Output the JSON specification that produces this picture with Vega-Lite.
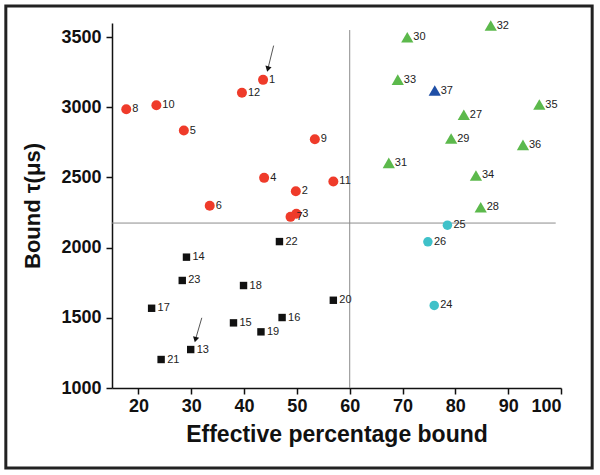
{
  "$schema": "https://vega.github.io/schema/vega-lite/v6.json",
  "width": 449,
  "height": 365,
  "autosize": "none",
  "padding": {"left": 112, "top": 23, "right": 39, "bottom": 87},
  "background": "white",
  "config": {
    "view": {"stroke": null},
    "font": "Liberation Sans"
  },
  "datasets": {
    "pts": [
      {"id": "1", "x": 43.6, "y": 3195, "g": "A"},
      {"id": "12", "x": 39.6, "y": 3103, "g": "A"},
      {"id": "8", "x": 17.7, "y": 2986, "g": "A"},
      {"id": "10", "x": 23.4, "y": 3014, "g": "A"},
      {"id": "5", "x": 28.6, "y": 2834, "g": "A"},
      {"id": "9", "x": 53.4, "y": 2772, "g": "A"},
      {"id": "4", "x": 43.8, "y": 2497, "g": "A"},
      {"id": "11", "x": 56.9, "y": 2471, "g": "A"},
      {"id": "2", "x": 49.8, "y": 2402, "g": "A"},
      {"id": "6", "x": 33.5, "y": 2298, "g": "A"},
      {"id": "7", "x": 48.8, "y": 2219, "g": "A"},
      {"id": "3", "x": 49.9, "y": 2241, "g": "A"},
      {"id": "22", "x": 46.7, "y": 2043, "g": "B"},
      {"id": "14", "x": 29.1, "y": 1932, "g": "B"},
      {"id": "23", "x": 28.3, "y": 1766, "g": "B"},
      {"id": "18", "x": 39.9, "y": 1730, "g": "B"},
      {"id": "17", "x": 22.5, "y": 1568, "g": "B"},
      {"id": "20", "x": 56.9, "y": 1625, "g": "B"},
      {"id": "16", "x": 47.2, "y": 1502, "g": "B"},
      {"id": "15", "x": 38.0, "y": 1464, "g": "B"},
      {"id": "19", "x": 43.2, "y": 1400, "g": "B"},
      {"id": "13", "x": 29.9, "y": 1274, "g": "B"},
      {"id": "21", "x": 24.3, "y": 1203, "g": "B"},
      {"id": "25", "x": 78.5, "y": 2160, "g": "C"},
      {"id": "26", "x": 74.8, "y": 2041, "g": "C"},
      {"id": "24", "x": 76.0, "y": 1588, "g": "C"},
      {"id": "28", "x": 84.8, "y": 2288, "g": "D"},
      {"id": "32", "x": 86.7, "y": 3582, "g": "D"},
      {"id": "30", "x": 70.9, "y": 3499, "g": "D"},
      {"id": "33", "x": 69.1, "y": 3197, "g": "D"},
      {"id": "35", "x": 95.9, "y": 3019, "g": "D"},
      {"id": "27", "x": 81.6, "y": 2946, "g": "D"},
      {"id": "29", "x": 79.2, "y": 2777, "g": "D"},
      {"id": "36", "x": 92.8, "y": 2732, "g": "D"},
      {"id": "31", "x": 67.4, "y": 2604, "g": "D"},
      {"id": "34", "x": 83.9, "y": 2514, "g": "D"},
      {"id": "37", "x": 76.1, "y": 3119, "g": "E"}
    ],
    "arrows": [
      {"x": 45.6, "y": 3439, "x2": 44.5, "y2": 3272},
      {"x": 32.0, "y": 1500, "x2": 30.8, "y2": 1345}
    ],
    "one": [{}]
  },
  "layer": [
    {
      "data": {"name": "one"},
      "mark": {"type": "rect", "fill": null, "stroke": "#222222", "strokeWidth": 3, "clip": false},
      "encoding": {
        "x": {"datum": -5.1, "type": "quantitative", "scale": {"domain": [15, 100], "nice": false, "zero": false}},
        "x2": {"datum": 105.9},
        "y": {"datum": 3721, "type": "quantitative", "scale": {"domain": [1000, 3600], "nice": false, "zero": false}},
        "y2": {"datum": 430}
      }
    },
    {
      "data": {"name": "one"},
      "mark": {"type": "rule", "color": "#8c8c8c", "strokeWidth": 1},
      "encoding": {
        "x": {"datum": 60, "type": "quantitative"},
        "y": {"datum": 3550, "type": "quantitative"},
        "y2": {"datum": 1000}
      }
    },
    {
      "data": {"name": "one"},
      "mark": {"type": "rule", "color": "#8c8c8c", "strokeWidth": 1},
      "encoding": {
        "x": {"datum": 15, "type": "quantitative"},
        "x2": {"datum": 99},
        "y": {"datum": 2175, "type": "quantitative"}
      }
    },
    {
      "data": {"name": "pts"},
      "mark": {"type": "point", "filled": true, "opacity": 1},
      "encoding": {
        "x": {
          "field": "x", "type": "quantitative",
          "scale": {"domain": [15, 100], "nice": false, "zero": false},
          "axis": {
            "values": [20, 25, 30, 35, 40, 45, 50, 55, 60, 65, 70, 75, 80, 85, 90, 95, 100],
            "labelExpr": "datum.value % 10 === 0 ? datum.label : ''",
            "tickSize": {"condition": {"test": "datum.value % 10 === 0", "value": 6}, "value": 4},
            "title": "Effective percentage bound",
            "grid": false,
            "domainColor": "#111111", "domainWidth": 1.5,
            "tickColor": "#111111", "tickWidth": 1.5,
            "labelFont": "Liberation Sans", "labelFontSize": 18, "labelFontWeight": "bold", "labelColor": "#111111",
            "labelPadding": 3,
            "titleFont": "Liberation Sans", "titleFontSize": 23, "titleFontWeight": "bold", "titleColor": "#111111",
            "titlePadding": 8
          }
        },
        "y": {
          "field": "y", "type": "quantitative",
          "scale": {"domain": [1000, 3600], "nice": false, "zero": false},
          "axis": {
            "values": [1000, 1250, 1500, 1750, 2000, 2250, 2500, 2750, 3000, 3250, 3500],
            "labelExpr": "datum.value % 500 === 0 ? datum.label : ''",
            "format": "d",
            "tickSize": {"condition": {"test": "datum.value % 500 === 0", "value": 6}, "value": 4},
            "title": "Bound τ(μs)",
            "grid": false,
            "domainColor": "#111111", "domainWidth": 1.5,
            "tickColor": "#111111", "tickWidth": 1.5,
            "labelFont": "Liberation Sans", "labelFontSize": 18, "labelFontWeight": "bold", "labelColor": "#111111",
            "labelPadding": 5,
            "titleFont": "Liberation Sans", "titleFontSize": 22, "titleFontWeight": "bold", "titleColor": "#111111",
            "titlePadding": 16
          }
        },
        "color": {
          "field": "g", "type": "nominal", "legend": null,
          "scale": {"domain": ["A", "B", "C", "D", "E"], "range": ["#ef3b2a", "#111111", "#3fc1c9", "#5cb94c", "#1f4fa6"]}
        },
        "shape": {
          "field": "g", "type": "nominal", "legend": null,
          "scale": {"domain": ["A", "B", "C", "D", "E"], "range": ["circle", "square", "circle", "triangle-up", "triangle-up"]}
        },
        "size": {
          "field": "g", "type": "ordinal", "legend": null,
          "scale": {"type": "ordinal", "domain": ["A", "B", "C", "D", "E"], "range": [100, 55, 90, 150, 150]}
        }
      }
    },
    {
      "data": {"name": "pts"},
      "mark": {"type": "text", "align": "left", "baseline": "middle", "dx": 6, "fontSize": 11, "font": "Liberation Sans", "fill": "#222222", "color": "#222222"},
      "encoding": {
        "x": {"field": "x", "type": "quantitative"},
        "y": {"field": "y", "type": "quantitative"},
        "text": {"field": "id"}
      }
    },
    {
      "data": {"name": "arrows"},
      "mark": {"type": "rule", "color": "#555555", "strokeWidth": 1},
      "encoding": {
        "x": {"field": "x", "type": "quantitative"},
        "y": {"field": "y", "type": "quantitative"},
        "x2": {"field": "x2"},
        "y2": {"field": "y2"}
      }
    },
    {
      "data": {"name": "arrows"},
      "mark": {"type": "point", "shape": "triangle-down", "filled": true, "color": "#111111", "size": 40, "angle": 14, "opacity": 1},
      "encoding": {
        "x": {"field": "x2", "type": "quantitative"},
        "y": {"field": "y2", "type": "quantitative"}
      }
    }
  ]
}
